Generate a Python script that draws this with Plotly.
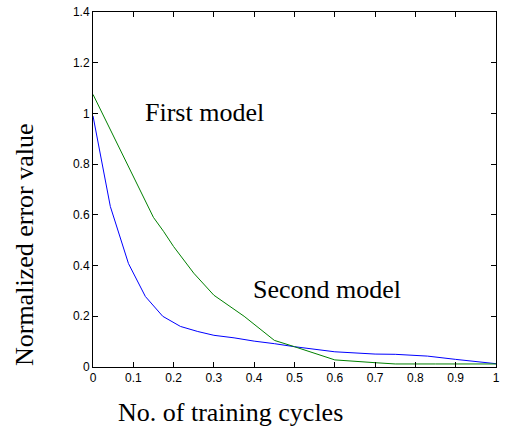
import plotly.graph_objects as go

# Data
first_x = [0, 0.043, 0.088, 0.13, 0.173, 0.217, 0.26, 0.3, 0.35, 0.4, 0.45, 0.5, 0.6, 0.7, 0.75, 0.83, 0.9, 1.0]
first_y = [0.99, 0.633, 0.408, 0.278, 0.2, 0.16, 0.14, 0.125, 0.115, 0.102, 0.092, 0.08, 0.06, 0.051, 0.05, 0.043, 0.03, 0.013]

second_x = [0, 0.15, 0.175, 0.2, 0.25, 0.3, 0.375, 0.45, 0.5, 0.6, 0.7, 0.75, 0.85, 1.0]
second_y = [1.075, 0.59, 0.535, 0.475, 0.37, 0.283, 0.2, 0.105, 0.08, 0.028, 0.017, 0.012, 0.012, 0.012]

x_ticks = [0, 0.1, 0.2, 0.3, 0.4, 0.5, 0.6, 0.7, 0.8, 0.9, 1.0]
x_labels = ["0", "0.1", "0.2", "0.3", "0.4", "0.5", "0.6", "0.7", "0.8", "0.9", "1"]
y_ticks = [0, 0.2, 0.4, 0.6, 0.8, 1.0, 1.2, 1.4]
y_labels = ["0", "0.2", "0.4", "0.6", "0.8", "1", "1.2", "1.4"]

serif = "Liberation Serif, Times New Roman, serif"
sans = "Liberation Sans, Arial, sans-serif"

fig = go.Figure()
fig.add_trace(go.Scatter(x=first_x, y=first_y, mode="lines",
                         line=dict(color="#0000FF", width=1), showlegend=False))
fig.add_trace(go.Scatter(x=second_x, y=second_y, mode="lines",
                         line=dict(color="#008000", width=1), showlegend=False))

axis_common = dict(showline=True, linecolor="black", linewidth=1, mirror="ticks",
                   ticks="inside", ticklen=5, tickcolor="black", showgrid=False,
                   zeroline=False, tickfont=dict(family=sans, size=12, color="black"))

fig.update_xaxes(range=[0, 1], tickvals=x_ticks, ticktext=x_labels, **axis_common)
fig.update_yaxes(range=[0, 1.4], tickvals=y_ticks, ticktext=y_labels, **axis_common)

fig.add_annotation(x=0.123, y=1.005, xref="x", yref="y", text="First model",
                   showarrow=False, xanchor="left", yanchor="middle",
                   font=dict(family=serif, size=26, color="black"))
fig.add_annotation(x=0.393, y=0.305, xref="x", yref="y", text="Second model",
                   showarrow=False, xanchor="left", yanchor="middle",
                   font=dict(family=serif, size=26, color="black"))
fig.add_annotation(x=-0.1695, y=0.3455, xref="paper", yref="paper",
                   text="Normalized error value", textangle=-90, showarrow=False,
                   xanchor="center", yanchor="middle",
                   font=dict(family=serif, size=26, color="black"))
fig.add_annotation(x=0.3415, y=-0.128, xref="paper", yref="paper",
                   text="No. of training cycles", showarrow=False,
                   xanchor="center", yanchor="middle",
                   font=dict(family=serif, size=26, color="black"))

fig.update_layout(width=505, height=431, margin=dict(l=93, r=5, t=11, b=64),
                  paper_bgcolor="white", plot_bgcolor="white")

fig.write_html("out.html")
